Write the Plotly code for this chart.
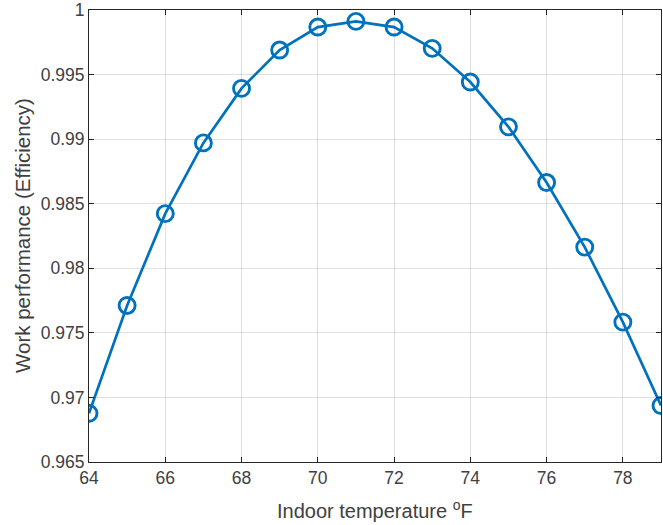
import plotly.graph_objects as go

temperature = [64, 65, 66, 67, 68, 69, 70, 71, 72, 73, 74, 75, 76, 77, 78, 79]
efficiency = [0.96877, 0.97712, 0.98423, 0.98971, 0.99393, 0.99690, 0.99868, 0.99912,
              0.99868, 0.99703, 0.99442, 0.99095, 0.98664, 0.98164, 0.97583, 0.96937]
x_ticks = [64, 66, 68, 70, 72, 74, 76, 78]
y_ticks = [0.965, 0.97, 0.975, 0.98, 0.985, 0.99, 0.995, 1.0]
y_ticktext = ["0.965", "0.97", "0.975", "0.98", "0.985", "0.99", "0.995", "1"]

blue = "#0072BD"
axcol = "#262626"
gridcol = "rgba(0,0,0,0.12)"

fig = go.Figure()
fig.add_trace(go.Scatter(
    x=temperature, y=efficiency, mode="lines+markers",
    line=dict(color=blue, width=2.7),
    marker=dict(symbol="circle-open", size=16, color=blue, line=dict(width=2.9, color=blue)),
    cliponaxis=True, showlegend=False,
))

font = "Liberation Sans, Arial, Helvetica, sans-serif"
axis_common = dict(
    showline=True, linecolor=axcol, linewidth=1, mirror="ticks",
    ticks="inside", ticklen=5, tickcolor=axcol, tickwidth=1,
    showgrid=True, gridcolor=gridcol, gridwidth=1, zeroline=False,
    tickfont=dict(family=font, size=17.5, color="#404040"),
    automargin=False,
)

fig.update_layout(
    width=663, height=525,
    margin=dict(l=89, r=2, t=10, b=63, autoexpand=False),
    paper_bgcolor="white", plot_bgcolor="white",
    font=dict(family=font, color=axcol),
    xaxis=dict(range=[64, 79], tickvals=x_ticks, **axis_common),
    yaxis=dict(range=[0.965, 1.0], tickvals=y_ticks, ticktext=y_ticktext, **axis_common),
    annotations=[
        dict(text="Indoor temperature <sup>o</sup>F", xref="paper", yref="paper",
             x=0.5, y=0, yshift=-47, xanchor="center", yanchor="middle", showarrow=False,
             font=dict(family=font, size=20, color="#404040")),
        dict(text="Work performance (Efficiency)", xref="paper", yref="paper",
             x=0, y=0.5, xshift=-67, xanchor="center", yanchor="middle", showarrow=False,
             textangle=-90, font=dict(family=font, size=20.5, color="#404040")),
    ],
)

fig.write_html("out.html", config={"displayModeBar": False},
               post_script="document.body.style.margin='0';document.body.style.padding='0';")
